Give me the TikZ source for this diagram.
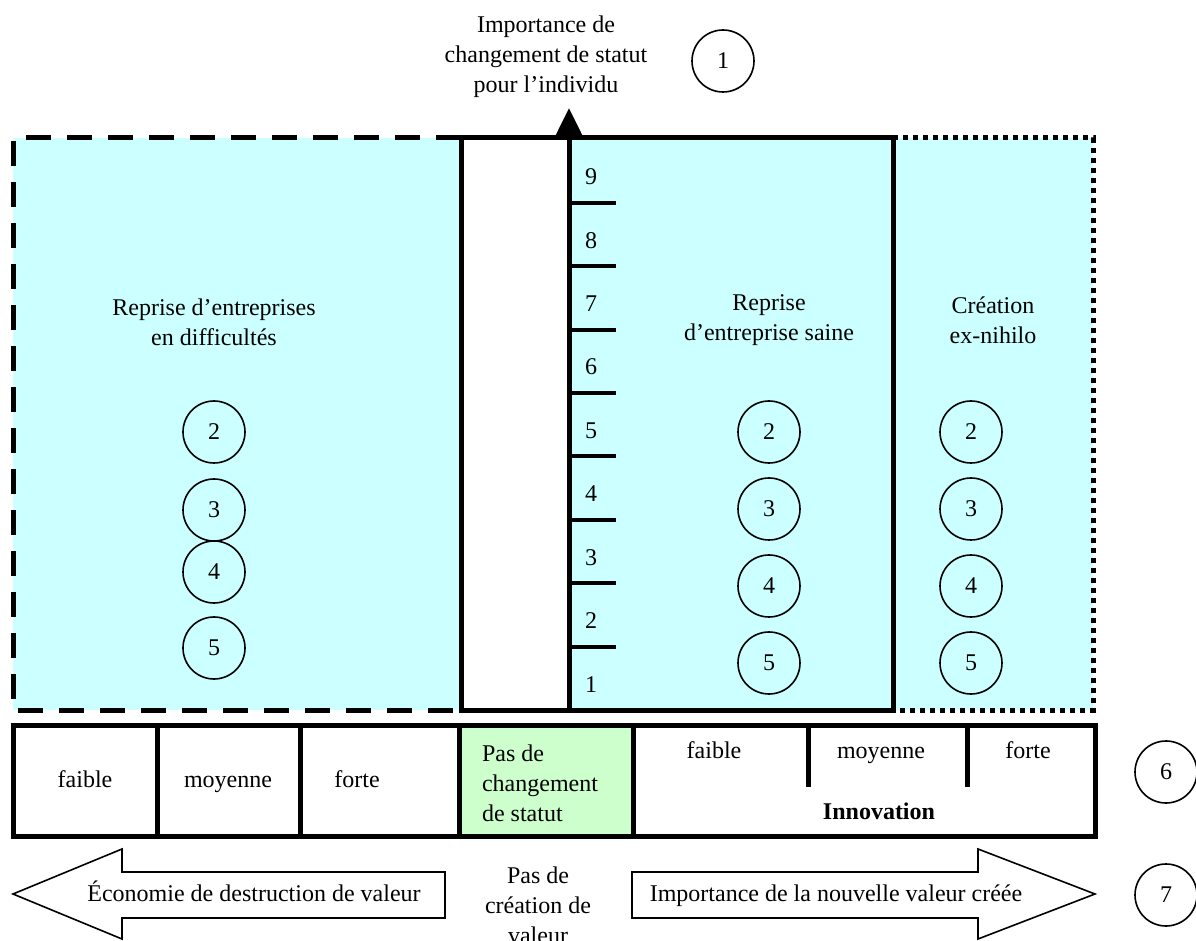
\documentclass[tikz,border=0pt]{standalone}
\usepackage{fontspec}
\setmainfont{Liberation Serif}
\usepackage{tikz}
\usetikzlibrary{positioning, arrows.meta}
\usepackage{xcolor}
\definecolor{paleblue}{HTML}{CCFFFF}
\definecolor{palegreen}{HTML}{CCFFCC}

\begin{document}
\begin{tikzpicture}[x=0.5pt, y=-0.5pt, node distance=6.7pt, font=\fontsize{12}{15}\selectfont,
    num/.style={draw, circle, line width=0.8pt, minimum size=31pt, inner sep=0pt},
    word/.style={text height=8.5pt, text depth=2.5pt},
    thick frame/.style={line width=2.5pt},
    block arrow/.style={draw, line width=0.8pt, line join=miter}]
    \useasboundingbox (0,0) rectangle (1196,941);

    \fill[paleblue] (13,138) rectangle (461,710);
    \fill[paleblue] (569,138) rectangle (1093,710);
    \draw[thick frame, dash pattern=on 12.5pt off 8pt] (461,138) -- (13,138) -- (13,710) -- (461,710);
    \draw[thick frame, dash pattern=on 2.5pt off 2.5pt] (893,138) -- (1093,138) -- (1093,710) -- (893,710);
    \draw[thick frame] (461,138) rectangle (893,710);

    \coordinate (axis-base) at (569,710);
    \coordinate (axis-top) at (569,108);
    \draw[thick frame, -{Triangle[width=14pt, length=15pt]}] (axis-base) -- (axis-top);
    \foreach \k in {2,...,9}
        \draw[line width=2pt] (569,{710-(\k-1)*63.4}) -- ++(47,0);
    \foreach \k in {1,...,9}
        \node[word, anchor=west] (tick-\k) at (578,{686-(\k-1)*63.4}) {\k};

    \node[align=center] (status-axis) at (546,57) {Importance de\\changement de statut\\pour l’individu};
    \node[num] (n1) at (723,61) {1};

    \node[align=center] (reprise-difficulte) at (214,322) {Reprise d’entreprises\\en difficultés};
    \node[num] (left-2) at (214,432) {2};
    \node[num] (left-3) at (214,510) {3};
    \node[num] (left-4) at (214,572) {4};
    \node[num] (left-5) at (214,648) {5};

    \node[align=center] (reprise-saine) at (769,320) {Reprise\\d’entreprise saine};
    \node[num] (mid-2) at (769,432) {2};
    \node[num, below=of mid-2] (mid-3) {3};
    \node[num, below=of mid-3] (mid-4) {4};
    \node[num, below=of mid-4] (mid-5) {5};

    \node[align=center] (creation) at (993,320) {Création\\ex-nihilo};
    \node[num] (right-2) at (971,432) {2};
    \node[num, below=of right-2] (right-3) {3};
    \node[num, below=of right-3] (right-4) {4};
    \node[num, below=of right-4] (right-5) {5};

    \fill[palegreen] (459,725) rectangle (633,836);
    \draw[thick frame] (13,725) rectangle (1095,836);
    \draw[thick frame] (157,725) -- (157,836) (300,725) -- (300,836)
        (459,725) -- (459,836) (633,725) -- (633,836);
    \draw[thick frame] (808,725) -- (808,787) (967,725) -- (967,787);

    \node[word] (loss-low) at (85,781) {faible};
    \node[word] (loss-mid) at (228,781) {moyenne};
    \node[word] (loss-high) at (357,781) {forte};
    \node[align=left, anchor=west] (no-change) at (475,783) {Pas de\\changement\\de statut};
    \node[word] (innov-low) at (714,752) {faible};
    \node[word] (innov-mid) at (881,752) {moyenne};
    \node[word] (innov-high) at (1028,752) {forte};
    \node[word, font=\fontsize{12}{15}\selectfont\bfseries] (innovation) at (879,813) {Innovation};
    \node[num] (n6) at (1166,772) {6};

    \draw[block arrow] (445,872) -- (122,872) -- (122,849) -- (13,894) -- (122,939) -- (122,918) -- (445,918) -- cycle;
    \node[word] (destruction) at (254,895) {Économie de destruction de valeur};
    \node[align=center] (no-value) at (538,905) {Pas de\\création de\\valeur};
    \draw[block arrow] (632,872) -- (978,872) -- (978,849) -- (1095,894) -- (978,939) -- (978,918) -- (632,918) -- cycle;
    \node[word] (new-value) at (836,895) {Importance de la nouvelle valeur créée};
    \node[num] (n7) at (1166,895) {7};
\end{tikzpicture}
\end{document}
